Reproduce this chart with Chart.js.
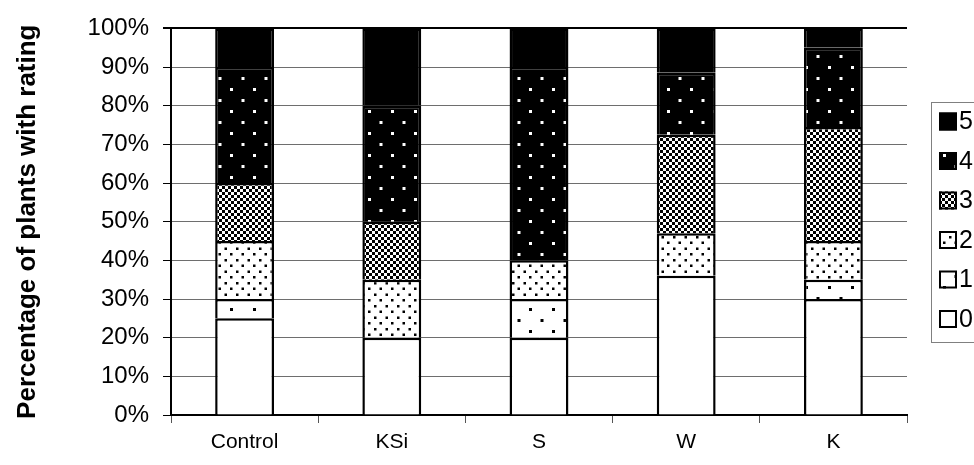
<!DOCTYPE html>
<html>
<head>
<meta charset="utf-8">
<script src="https://cdn.jsdelivr.net/npm/chart.js@4.4.1/dist/chart.umd.min.js"></script>
<style>
  html, body { margin: 0; padding: 0; background: #fff; overflow: hidden; }
  #wrap { width: 974px; height: 465px; position: relative; }
</style>
</head>
<body>
<div id="wrap"><canvas id="c" width="974" height="465"></canvas></div>
<script>
// Treatments and share of plants (%) in each rating class
const categories = ['Control', 'KSi', 'S', 'W', 'K'];
const ratingNames = ['0', '1', '2', '3', '4', '5'];
const rating0 = [25, 20, 20, 36, 30];
const rating1 = [5, 0, 10, 0, 5];
const rating2 = [15, 15, 10, 11, 10];
const rating3 = [15, 15, 0, 25.5, 29.5];
const rating4 = [30, 30, 50, 16, 20.5];
const rating5 = [10, 20, 10, 11.5, 5];
const yTicks = [0, 10, 20, 30, 40, 50, 60, 70, 80, 90, 100];

const FONT = "'Liberation Sans', Arial, Helvetica, sans-serif";

// Monochrome fill patterns for the stacked segments
function makePattern(w, h, bg, fg, draw) {
  const c = document.createElement('canvas');
  c.width = w; c.height = h;
  const g = c.getContext('2d');
  g.fillStyle = bg; g.fillRect(0, 0, w, h);
  g.fillStyle = fg;
  draw(g);
  return document.createElement('canvas').getContext('2d').createPattern(c, 'repeat');
}
const sparseDots = (g) => { g.fillRect(0, 0, 3, 3); g.fillRect(11.5, 11, 3, 3); };
const fills = [
  '#ffffff',
  makePattern(23, 22, '#fff', '#000', sparseDots),
  makePattern(23, 23, '#fff', '#000', (g) => {
    [[0, 0], [11.5, 0], [6, 6], [17.5, 6], [0, 11.5], [11.5, 11.5], [6, 17.5], [17.5, 17.5]]
      .forEach(([x, y]) => g.fillRect(x, y, 2.5, 2.5));
  }),
  makePattern(6, 6, '#fff', '#000', (g) => { g.fillRect(0, 0, 3, 3); g.fillRect(3, 3, 3, 3); }),
  makePattern(23, 22, '#000', '#fff', sparseDots),
  '#000000'
];

const seriesValues = [rating0, rating1, rating2, rating3, rating4, rating5];
const datasets = seriesValues.map((vals, i) => ({
  label: ratingNames[i],
  data: vals,
  backgroundColor: fills[i],
  borderColor: '#000',
  borderWidth: 2.5
}));

// Boxed legend on the right, highest rating on top
const ratingLegend = {
  id: 'ratingLegend',
  afterDraw(chart) {
    const ctx = chart.ctx;
    ctx.save();
    ctx.strokeStyle = '#808080';
    ctx.lineWidth = 1;
    ctx.strokeRect(931.5, 102.5, 80, 240);
    const items = chart.data.datasets.slice().reverse();
    items.forEach((ds, i) => {
      const cy = 121.5 + i * 39.5;
      ctx.fillStyle = ds.backgroundColor;
      ctx.fillRect(939, cy - 9, 18, 18);
      ctx.strokeStyle = '#000';
      ctx.lineWidth = 2;
      ctx.strokeRect(940, cy - 8, 16, 16);
      ctx.fillStyle = '#000';
      ctx.font = '25px ' + FONT;
      ctx.textAlign = 'left';
      ctx.textBaseline = 'middle';
      ctx.fillText(ds.label, 959, cy + 1);
    });
    ctx.restore();
  }
};

new Chart(document.getElementById('c'), {
  type: 'bar',
  data: { labels: categories, datasets },
  plugins: [ratingLegend],
  options: {
    responsive: false,
    animation: false,
    layout: { padding: { top: 27, right: 67, left: 0, bottom: 0 } },
    datasets: { bar: { categoryPercentage: 1, barPercentage: 0.4 } },
    plugins: { legend: { display: false }, tooltip: { enabled: false } },
    scales: {
      x: {
        stacked: true,
        afterFit: (s) => { s.height = 50; },
        grid: {
          offset: true,
          drawOnChartArea: true,
          color: (c) => (c.index === categories.length ? '#000' : 'rgba(0,0,0,0)'),
          tickColor: '#555',
          tickLength: 8,
          lineWidth: 1
        },
        border: { color: '#000', width: 2 },
        ticks: { color: '#000', font: { family: FONT, size: 21 }, padding: 7 }
      },
      y: {
        stacked: true,
        min: 0,
        max: 100,
        afterFit: (s) => { s.width = 171; },
        afterBuildTicks: (s) => { s.ticks = yTicks.map((v) => ({ value: v })); },
        grid: {
          color: (c) => (c.tick && c.tick.value === 100 ? '#000' : '#6e6e6e'),
          lineWidth: (c) => (c.tick && c.tick.value === 100 ? 2 : 1),
          tickColor: '#000',
          tickLength: 8
        },
        border: { color: '#000', width: 2 },
        ticks: {
          color: '#000',
          font: { family: FONT, size: 24 },
          padding: 14,
          callback: (v) => v + '%'
        },
        title: {
          display: true,
          text: 'Percentage of plants with rating',
          color: '#000',
          font: { family: FONT, size: 26, weight: 'bold' },
          padding: { top: 12, bottom: 0 }
        }
      }
    }
  }
});
</script>
</body>
</html>
